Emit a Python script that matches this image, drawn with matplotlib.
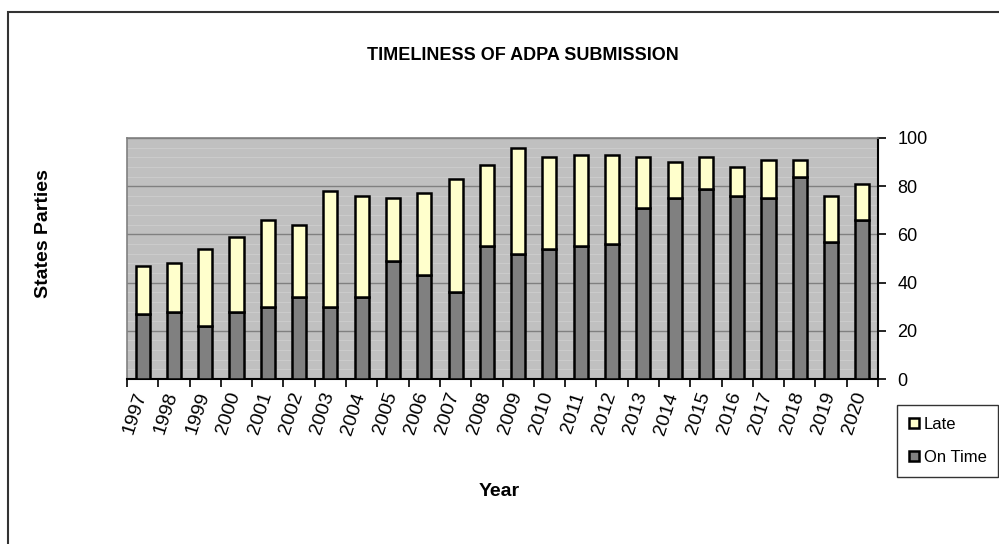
import numpy as np
import matplotlib.pyplot as plt
from matplotlib.patches import Rectangle

plt.rcParams['font.family'] = ['Liberation Sans', 'DejaVu Sans']

# data
years = ['1997', '1998', '1999', '2000', '2001', '2002', '2003', '2004',
         '2005', '2006', '2007', '2008', '2009', '2010', '2011', '2012',
         '2013', '2014', '2015', '2016', '2017', '2018', '2019', '2020']
on_time = [27, 28, 22, 28, 30, 34, 30, 34, 49, 43, 36, 55,
           52, 54, 55, 56, 71, 75, 79, 76, 75, 84, 57, 66]
total = [47, 48, 54, 59, 66, 64, 78, 76, 75, 77, 83, 89,
         96, 92, 93, 93, 92, 90, 92, 88, 91, 91, 76, 81]
late = [t - o for t, o in zip(total, on_time)]

W, H = 999, 544
fig = plt.figure(figsize=(W / 100, H / 100), dpi=100)

# outer chart frame (cut off on the right and bottom like the original)
fig.patches.append(Rectangle((8 / W, -0.1), 1.2, 1 - 12 / H + 0.1,
                             transform=fig.transFigure, fill=False,
                             edgecolor='#333333', linewidth=1.5))

ax = fig.add_axes([127 / W, 1 - 379 / H, (878 - 127) / W, (379 - 138) / H])
ax.set_facecolor('#c0c0c0')

x = np.arange(len(years))
ax.bar(x, on_time, width=0.45, color='#808080', edgecolor='black',
       linewidth=1.8, label='On Time', zorder=3)
ax.bar(x, late, bottom=on_time, width=0.45, color='#ffffcc', edgecolor='black',
       linewidth=1.8, label='Late', zorder=3)

# light stripes between gridlines, then the main gridlines
for v in np.arange(4, 100, 4):
    if v % 20:
        ax.axhline(v, color='#cbcbcb', linewidth=0.8, zorder=1)
ax.set_yticks(range(0, 101, 20))
ax.yaxis.grid(True, color='#808080', linewidth=1.0, zorder=2)
ax.set_axisbelow(True)

ax.yaxis.tick_right()
ax.tick_params(axis='y', direction='out', length=6, width=1.2, pad=8,
               labelsize=13)

# labels sit a bit left of the bar centres, like the slanted Excel labels
ax.set_xticks(x - 0.25)
ax.set_xticklabels(years, rotation=72, fontsize=14, ha='center', va='top')
ax.set_xticks(np.arange(-0.5, len(years), 1), minor=True)
ax.tick_params(axis='x', which='major', length=0, pad=8)
ax.tick_params(axis='x', which='minor', direction='out', length=6, width=1.2)

ax.set_xlim(-0.5, len(years) - 0.5)
ax.set_ylim(0, 100)

for side in ['top', 'left']:
    ax.spines[side].set_color('#808080')
    ax.spines[side].set_linewidth(1.2)
ax.spines['right'].set_linewidth(1.5)
ax.spines['bottom'].set_linewidth(1.5)

fig.text(523 / W, 1 - 55 / H, 'TIMELINESS OF ADPA SUBMISSION', ha='center',
         va='center', fontsize=13, fontweight='bold')
fig.text(43 / W, 1 - 234 / H, 'States Parties', ha='center', va='center',
         rotation=90, fontsize=14, fontweight='bold')
fig.text(499 / W, 1 - 492 / H, 'Year', ha='center', va='center',
         fontsize=14, fontweight='bold')

handles, labels = ax.get_legend_handles_labels()
leg = fig.legend(handles[::-1], labels[::-1], loc='upper left',
                 bbox_to_anchor=(897 / W, 1 - 405 / H), fontsize=12,
                 frameon=True, fancybox=False, edgecolor='black',
                 handlelength=0.6, handleheight=0.6, handletextpad=0.3,
                 labelspacing=1.1, borderpad=0.7, borderaxespad=0)
leg.get_frame().set_linewidth(1.0)

fig.savefig('out.png', dpi=100, facecolor='white')
